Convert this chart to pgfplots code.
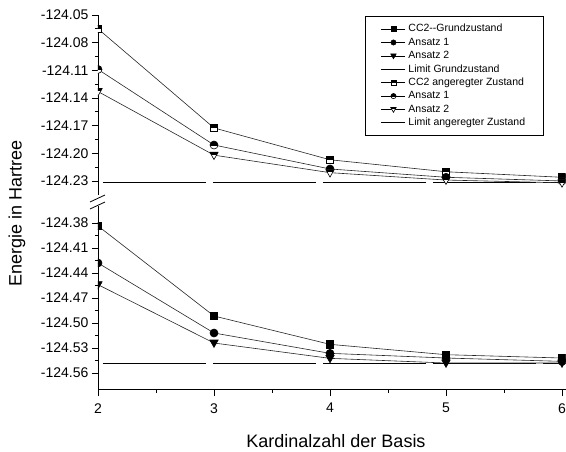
\documentclass[border=0pt]{standalone}
\usepackage{pgfplots}
\pgfplotsset{compat=1.18}
\usepackage{fontspec}
\setmainfont{Liberation Sans}

\pgfdeclareplotmark{hsquare}{%
  \begin{pgfscope}%
  \pgfpathrectangle{\pgfpoint{-\pgfplotmarksize}{-\pgfplotmarksize}}{\pgfpoint{2\pgfplotmarksize}{2\pgfplotmarksize}}%
  \pgfsetfillcolor{white}\pgfusepath{fill}%
  \pgfpathrectangle{\pgfpoint{-\pgfplotmarksize}{-0.1\pgfplotmarksize}}{\pgfpoint{2\pgfplotmarksize}{1.1\pgfplotmarksize}}%
  \pgfsetfillcolor{black}\pgfusepath{fill}%
  \pgfpathrectangle{\pgfpoint{-\pgfplotmarksize}{-\pgfplotmarksize}}{\pgfpoint{2\pgfplotmarksize}{2\pgfplotmarksize}}%
  \pgfusepath{stroke}%
  \end{pgfscope}%
}
\pgfdeclareplotmark{hcircle}{%
  \begin{pgfscope}%
  \pgfpathcircle{\pgfpointorigin}{\pgfplotmarksize}%
  \pgfsetfillcolor{white}\pgfusepath{fill}%
  \begin{pgfscope}%
  \pgfpathrectangle{\pgfpoint{-2\pgfplotmarksize}{-0.1\pgfplotmarksize}}{\pgfpoint{4\pgfplotmarksize}{2\pgfplotmarksize}}\pgfusepath{clip}%
  \pgfpathcircle{\pgfpointorigin}{\pgfplotmarksize}%
  \pgfsetfillcolor{black}\pgfusepath{fill}%
  \end{pgfscope}%
  \pgfpathcircle{\pgfpointorigin}{\pgfplotmarksize}\pgfusepath{stroke}%
  \end{pgfscope}%
}
\newcommand\tripath{%
  \pgfpathmoveto{\pgfpoint{0pt}{-1.1\pgfplotmarksize}}%
  \pgfpathlineto{\pgfpoint{-1.05\pgfplotmarksize}{0.75\pgfplotmarksize}}%
  \pgfpathlineto{\pgfpoint{1.05\pgfplotmarksize}{0.75\pgfplotmarksize}}%
  \pgfpathclose}
\pgfdeclareplotmark{htriangle}{%
  \begin{pgfscope}%
  \tripath\pgfsetfillcolor{white}\pgfusepath{fill}%
  \begin{pgfscope}%
  \pgfpathrectangle{\pgfpoint{-2\pgfplotmarksize}{0.2\pgfplotmarksize}}{\pgfpoint{4\pgfplotmarksize}{2\pgfplotmarksize}}\pgfusepath{clip}%
  \tripath\pgfsetfillcolor{black}\pgfusepath{fill}%
  \end{pgfscope}%
  \tripath\pgfusepath{stroke}%
  \end{pgfscope}%
}
\pgfdeclareplotmark{ftriangle}{%
  \begin{pgfscope}%
  \tripath\pgfsetfillcolor{black}\pgfusepath{fill,stroke}%
  \end{pgfscope}%
}

\pgfplotsset{
  myax/.style={
    scale only axis, width=467.5pt, xmin=2, xmax=6.03,
    axis y line*=left, tick align=outside,
    major tick length=6pt, minor tick length=3pt,
    every tick/.style={black, line width=0.8pt},
    axis line style={line width=0.8pt},
    tick label style={font=\fontsize{14}{16}\selectfont},
    /pgf/number format/assume math mode=true,
    minor y tick num=1, scaled y ticks=false, clip=true, clip marker paths=true,
  },
  dat/.style={black!85, line width=0.6pt, mark options={solid, black, line width=0.6pt}},
  lim/.style={black, line width=1.1pt, dash pattern=on 103pt off 7pt, dash phase=105pt},
}

\begin{document}
\begin{tikzpicture}
\path[use as bounding box] (0,0) rectangle (566pt,451pt);

% upper panel: excited state
\begin{axis}[myax, at={(98pt,256.2pt)}, anchor=south west, height=179.8pt,
  ymin=-124.245, ymax=-124.05, axis x line=none,
  ytick={-124.05,-124.08,-124.11,-124.14,-124.17,-124.20,-124.23},
  yticklabels={-124.05,-124.08,-124.11,-124.14,-124.17,-124.20,-124.23},
  legend style={at={(0.954,0.994)}, anchor=north east, draw=black, line width=0.6pt,
    font=\fontsize{10.5}{11}\selectfont, inner xsep=16pt, inner ysep=6pt, row sep=0pt,
    nodes={inner xsep=2.5pt, inner ysep=1.45pt, text height=8pt, text depth=2.5pt}},
  legend cell align=left,
  legend image code/.code={\draw[#1, mark repeat=2, mark phase=2] plot coordinates {(0pt,0pt) (12pt,0pt) (24pt,0pt)};},
]
\addplot[lim, forget plot] coordinates {(2,-124.232) (6.03,-124.232)};
\addplot[dat, mark=hsquare, mark size=3.7pt, forget plot] coordinates {
  (2,-124.065) (3,-124.1725) (4,-124.207) (5,-124.220) (6,-124.226)};
\addplot[dat, mark=hcircle, mark size=4pt, forget plot] coordinates {
  (2,-124.109) (3,-124.191) (4,-124.217) (5,-124.226) (6,-124.230)};
\addplot[dat, mark=htriangle, mark size=4pt, forget plot] coordinates {
  (2,-124.133) (3,-124.202) (4,-124.221) (5,-124.229) (6,-124.232)};

\addlegendimage{black, line width=0.6pt, mark=square*, mark size=2.5pt, mark options={solid}}
\addlegendentry{CC2-{}-Grundzustand}
\addlegendimage{black, line width=0.6pt, mark=*, mark size=2.6pt, mark options={solid}}
\addlegendentry{Ansatz 1}
\addlegendimage{black, line width=0.6pt, mark=ftriangle, mark size=2.6pt, mark options={solid}}
\addlegendentry{Ansatz 2}
\addlegendimage{black, line width=1pt}
\addlegendentry{Limit Grundzustand}
\addlegendimage{black, line width=0.6pt, mark=hsquare, mark size=2.5pt, mark options={solid}}
\addlegendentry{CC2 angeregter Zustand}
\addlegendimage{black, line width=0.6pt, mark=hcircle, mark size=2.6pt, mark options={solid}}
\addlegendentry{Ansatz 1}
\addlegendimage{black, line width=0.6pt, mark=htriangle, mark size=2.6pt, mark options={solid}}
\addlegendentry{Ansatz 2}
\addlegendimage{black, line width=1pt}
\addlegendentry{Limit angeregter Zustand}
\end{axis}

% lower panel: ground state
\begin{axis}[myax, at={(98pt,61.3pt)}, anchor=south west, height=183.4pt,
  ymin=-124.58, ymax=-124.36, axis x line*=bottom,
  xtick={2,3,4,5,6}, xticklabels={2,3,4,5,6}, minor x tick num=1,
  xticklabel style={yshift=-4pt},
  ytick={-124.38,-124.41,-124.44,-124.47,-124.50,-124.53,-124.56},
  yticklabels={-124.38,-124.41,-124.44,-124.47,-124.50,-124.53,-124.56},
]
\addplot[lim] coordinates {(2,-124.549) (6.03,-124.549)};
\addplot[dat, mark=square*, mark size=3.7pt] coordinates {
  (2,-124.3836) (3,-124.4916) (4,-124.5256) (5,-124.538) (6,-124.542)};
\addplot[dat, mark=*, mark size=4pt] coordinates {
  (2,-124.428) (3,-124.512) (4,-124.5364) (5,-124.542) (6,-124.546)};
\addplot[dat, mark=ftriangle, mark size=4pt] coordinates {
  (2,-124.454) (3,-124.524) (4,-124.5424) (5,-124.548) (6,-124.548)};
\end{axis}

% axis break marks
\draw[line width=0.8pt] (90pt,249pt) -- (105pt,256pt);
\draw[line width=0.8pt] (90pt,242pt) -- (105pt,249pt);

\node[rotate=90, font=\fontsize{18}{20}\selectfont] at (17pt,238pt) {Energie in Hartree};
\node[anchor=base, font=\fontsize{18}{20}\selectfont] at (336pt,4pt) {Kardinalzahl der Basis};
\end{tikzpicture}
\end{document}
